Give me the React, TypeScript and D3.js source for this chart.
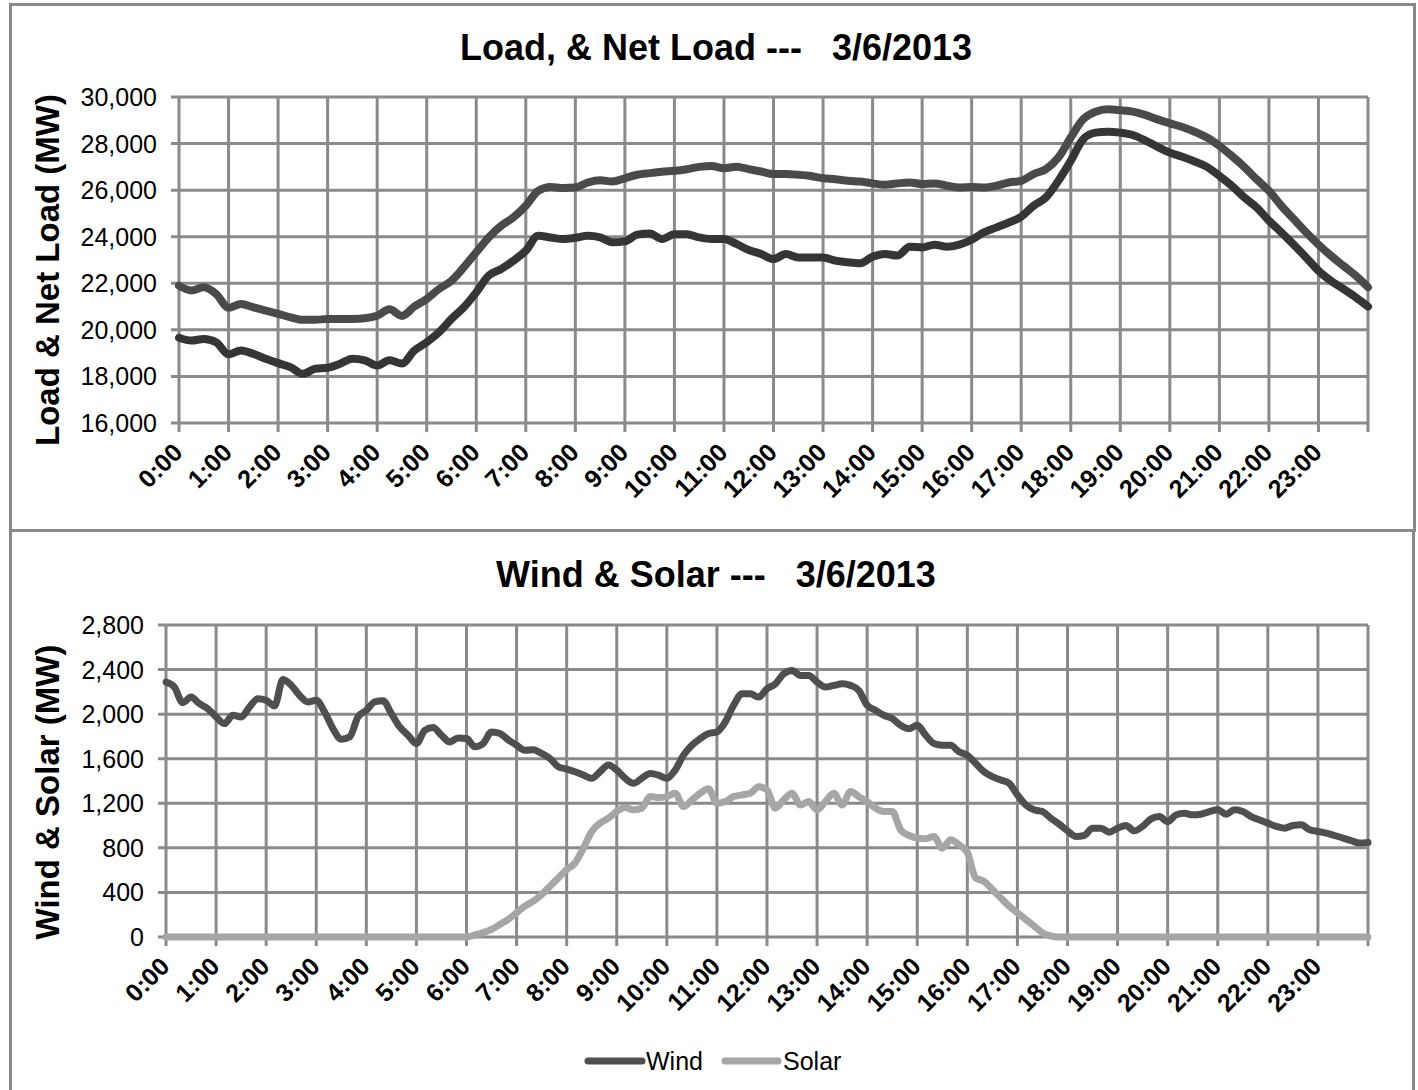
import * as d3 from "d3";

// hour labels on the x axis (0:00 .. 23:00)
const hourLabels = [
  "0:00", "1:00", "2:00", "3:00", "4:00", "5:00", "6:00", "7:00",
  "8:00", "9:00", "10:00", "11:00", "12:00", "13:00", "14:00", "15:00",
  "16:00", "17:00", "18:00", "19:00", "20:00", "21:00", "22:00", "23:00",
];

const loadTicks = [16000, 18000, 20000, 22000, 24000, 26000, 28000, 30000];
const windTicks = [0, 400, 800, 1200, 1600, 2000, 2400, 2800];

// 15-minute samples, 0:00 .. 24:00
const load = [
  21900, 21690, 21830, 21540, 20950, 21110, 20970, 20830,
  20690, 20540, 20430, 20430, 20470, 20470, 20470, 20500,
  20610, 20880, 20600, 21000, 21330, 21760, 22110, 22690,
  23330, 23970, 24470, 24830, 25330, 25970, 26140, 26090,
  26110, 26330, 26430, 26370, 26510, 26660, 26730, 26790,
  26830, 26900, 27000, 27040, 26940, 27000, 26900, 26800,
  26690, 26690, 26660, 26610, 26510, 26470, 26400, 26370,
  26290, 26230, 26290, 26330, 26260, 26290, 26190, 26110,
  26130, 26110, 26190, 26330, 26400, 26690, 26900, 27400,
  28260, 29040, 29370, 29470, 29430, 29370, 29230, 29040,
  28870, 28710, 28510, 28260, 27900, 27470, 27000, 26470,
  25970, 25330, 24760, 24190, 23660, 23190, 22760, 22330,
  21830,
];

const netLoad = [
  19660, 19540, 19610, 19470, 18950, 19110, 18970, 18760,
  18570, 18400, 18110, 18330, 18370, 18540, 18760, 18690,
  18470, 18700, 18550, 19110, 19470, 19900, 20470, 20970,
  21610, 22330, 22610, 22970, 23400, 24040, 23970, 23900,
  23950, 24040, 23970, 23760, 23800, 24090, 24140, 23900,
  24110, 24110, 23970, 23900, 23900, 23690, 23430, 23260,
  23040, 23260, 23110, 23110, 23110, 22970, 22900, 22860,
  23140, 23260, 23190, 23570, 23540, 23660, 23570, 23660,
  23870, 24190, 24400, 24610, 24860, 25330, 25690, 26400,
  27260, 28190, 28470, 28510, 28470, 28370, 28140, 27860,
  27610, 27430, 27230, 27000, 26610, 26190, 25690, 25260,
  24690, 24190, 23660, 23110, 22540, 22110, 21760, 21400,
  21000,
];

// 10-minute samples, 0:00 .. 24:00
const wind = [
  2287, 2243, 2103, 2153, 2094, 2049,
  1975, 1915, 1990, 1975, 2064, 2138,
  2124, 2073, 2310, 2260, 2168, 2110,
  2124, 2019, 1870, 1775, 1796, 1975,
  2034, 2110, 2120, 2005, 1885, 1811,
  1736, 1855, 1880, 1811, 1751, 1787,
  1781, 1707, 1736, 1840, 1826, 1770,
  1721, 1677, 1680, 1647, 1602, 1528,
  1507, 1483, 1453, 1424, 1483, 1543,
  1498, 1424, 1379, 1424, 1468, 1453,
  1424, 1498, 1632, 1721, 1781, 1826,
  1840, 1930, 2079, 2183, 2183, 2153,
  2228, 2272, 2362, 2392, 2347, 2347,
  2287, 2243, 2258, 2272, 2258, 2213,
  2079, 2034, 1990, 1960, 1900, 1870,
  1900, 1811, 1736, 1721, 1721, 1662,
  1630, 1558, 1483, 1439, 1409, 1379,
  1275, 1185, 1141, 1126, 1066, 1013,
  953, 902, 911, 977, 977, 941,
  977, 1001, 953, 992, 1060, 1081,
  1036, 1096, 1111, 1096, 1102, 1126,
  1141, 1102, 1141, 1126, 1081, 1051,
  1022, 992, 977, 1001, 1007, 962,
  947, 932, 911, 888, 864, 843,
  849,
];

const solar = [
  0, 0, 0, 0, 0, 0,
  0, 0, 0, 0, 0, 0,
  0, 0, 0, 0, 0, 0,
  0, 0, 0, 0, 0, 0,
  0, 0, 0, 0, 0, 0,
  0, 0, 0, 0, 0, 0,
  0, 18, 39, 68, 113, 158,
  217, 277, 322, 381, 456, 530,
  605, 664, 798, 947, 1022, 1066,
  1126, 1162, 1141, 1156, 1260, 1251,
  1260, 1290, 1171, 1230, 1290, 1330,
  1200, 1215, 1260, 1275, 1290, 1349,
  1320, 1156, 1230, 1290, 1185, 1215,
  1141, 1215, 1290, 1185, 1305, 1260,
  1215, 1156, 1126, 1126, 962, 911,
  888, 882, 902, 798, 873, 828,
  760, 530, 500, 426, 351, 277,
  217, 158, 98, 39, 9, 0,
  0, 0, 0, 0, 0, 0,
  0, 0, 0, 0, 0, 0,
  0, 0, 0, 0, 0, 0,
  0, 0, 0, 0, 0, 0,
  0, 0, 0, 0, 0, 0,
  0, 0, 0, 0, 0, 0,
  0,
];

const FONT = "'Liberation Sans', Arial, Helvetica, sans-serif";
const GRID = "#8a8a8a";
const fmt = d3.format(",");

type Series = { values: number[]; step: number; color: string; width: number };

type PanelProps = {
  title: string;
  titleY: number;
  yTitle: string;
  yTitleY: number;
  ticks: number[];
  x0: number;
  x1: number;
  yTop: number;
  yBot: number;
  series: Series[];
};

function Panel({ title, titleY, yTitle, yTitleY, ticks, x0, x1, yTop, yBot, series }: PanelProps) {
  const x = d3.scaleLinear().domain([0, 24]).range([x0, x1]);
  const y = d3
    .scaleLinear()
    .domain([ticks[0], ticks[ticks.length - 1]])
    .range([yBot, yTop]);
  const hours = d3.range(0, 25);

  return (
    <g fontFamily={FONT}>
      <text x={716} y={titleY} textAnchor="middle" fontSize={36} fontWeight="bold" style={{ whiteSpace: "pre" }}>
        {title}
      </text>
      <text
        transform={`translate(59, ${yTitleY}) rotate(-90)`}
        textAnchor="middle"
        fontSize={33}
        fontWeight="bold"
      >
        {yTitle}
      </text>

      {/* grid + tick marks */}
      {hours.map((h) => (
        <line key={"v" + h} x1={x(h)} x2={x(h)} y1={yTop} y2={yBot + 9} stroke={GRID} strokeWidth={3} />
      ))}
      {ticks.map((t) => (
        <line key={"h" + t} x1={x0 - 8} x2={x1} y1={y(t)} y2={y(t)} stroke={GRID} strokeWidth={3} />
      ))}

      {ticks.map((t) => (
        <text key={"yl" + t} x={x0 - 22} y={y(t)} dy="0.36em" textAnchor="end" fontSize={25}>
          {fmt(t)}
        </text>
      ))}
      {hourLabels.map((lab, i) => (
        <text
          key={lab}
          transform={`translate(${x(i) + 5}, ${yBot + 31}) rotate(-45)`}
          textAnchor="end"
          fontSize={25}
          fontWeight="bold"
        >
          {lab}
        </text>
      ))}

      {series.map((s, k) => {
        const line = d3
          .line<number>()
          .x((_, i) => x(i * s.step))
          .y((d) => y(d))
          .curve(d3.curveMonotoneX);
        return (
          <path
            key={k}
            d={line(s.values) ?? ""}
            fill="none"
            stroke={s.color}
            strokeWidth={s.width}
            strokeLinejoin="round"
            strokeLinecap="round"
          />
        );
      })}
    </g>
  );
}

export default function App() {
  return (
    <svg
      width={1418}
      height={1090}
      viewBox="0 0 1418 1090"
      style={{ position: "absolute", left: 0, top: 0, background: "#fff" }}
    >
      <rect x={0} y={0} width={1418} height={1090} fill="#fff" />
      <rect x={10.5} y={4.5} width={1404} height={526} fill="none" stroke={GRID} strokeWidth={3} />
      <rect x={10.5} y={530.5} width={1403} height={570} fill="none" stroke={GRID} strokeWidth={3} />

      <Panel
        title={"Load, & Net Load ---   3/6/2013"}
        titleY={60}
        yTitle="Load & Net Load (MW)"
        yTitleY={270}
        ticks={loadTicks}
        x0={179}
        x1={1368}
        yTop={97}
        yBot={423}
        series={[
          { values: load, step: 0.25, color: "#4a4a4a", width: 8 },
          { values: netLoad, step: 0.25, color: "#353535", width: 8 },
        ]}
      />

      <Panel
        title={"Wind & Solar ---   3/6/2013"}
        titleY={587}
        yTitle="Wind & Solar (MW)"
        yTitleY={792}
        ticks={windTicks}
        x0={166}
        x1={1368}
        yTop={625}
        yBot={937}
        series={[
          { values: solar, step: 1 / 6, color: "#a6a6a6", width: 7 },
          { values: wind, step: 1 / 6, color: "#4f4f4f", width: 7 },
        ]}
      />

      {/* legend */}
      <g fontFamily={FONT} fontSize={25}>
        <line x1={588} x2={642} y1={1061} y2={1061} stroke="#4f4f4f" strokeWidth={7} strokeLinecap="round" />
        <text x={646} y={1070}>Wind</text>
        <line x1={725} x2={778} y1={1061} y2={1061} stroke="#a6a6a6" strokeWidth={7} strokeLinecap="round" />
        <text x={783} y={1070}>Solar</text>
      </g>
    </svg>
  );
}
